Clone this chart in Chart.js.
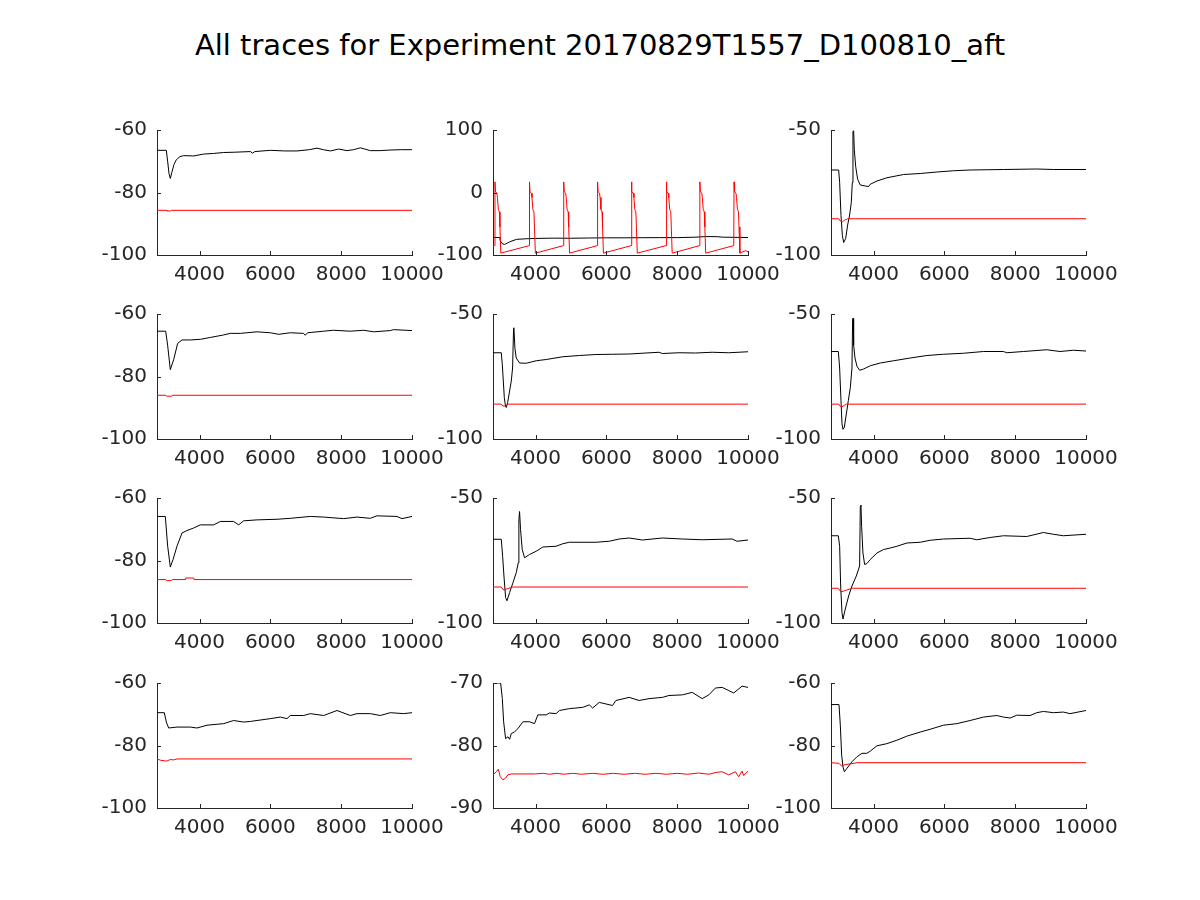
<!DOCTYPE html>
<html>
<head>
<meta charset="utf-8">
<script src="https://cdn.jsdelivr.net/npm/chart.js@4"></script>
<style>
  body { margin: 0; background: #fff; width: 1200px; height: 900px; position: relative; overflow: hidden; font-family: 'DejaVu Sans', sans-serif }
  #title { position: absolute; left: 0; top: 30px; width: 1200px; text-align: center; font-size: 29px; line-height: 30px; color: #000 }
  .panel { position: absolute }
</style>
</head>
<body>
<div id="title">All traces for Experiment 20170829T1557_D100810_aft</div>
<script>
// x axis is shared by every panel
const xRange = [2800, 10000]
const xTicks = [4000, 6000, 8000, 10000]

// y axis limits and ticks, one entry per panel (row by row)
const yRanges = [
  [-100, -60], [-100, 100], [-100, -50],
  [-100, -60], [-100, -50], [-100, -50],
  [-100, -60], [-100, -50], [-100, -50],
  [-100, -60], [-90, -70], [-100, -60]
]
const yTicks = [
  [-100, -80, -60], [-100, 0, 100], [-100, -50],
  [-100, -80, -60], [-100, -50], [-100, -50],
  [-100, -80, -60], [-100, -50], [-100, -50],
  [-100, -80, -60], [-90, -80, -70], [-100, -80, -60]
]

// traces as [time, value]
const black1 = [[2800,-66.5],[3063,-66.5],[3100,-70],[3140,-74],[3176,-75.5],[3220,-73.5],[3280,-71],[3346,-69.5],[3450,-68.5],[3553,-68.2],[3835,-68.3],[4118,-67.7],[4400,-67.5],[4682,-67.2],[5000,-67.1],[5435,-66.9],[5500,-67.4],[5560,-66.9],[6000,-66.5],[6400,-66.7],[6753,-66.7],[7100,-66.3],[7318,-65.8],[7500,-66.3],[7694,-66.7],[7929,-66.1],[8165,-66.6],[8350,-66.3],[8541,-65.7],[8700,-66.2],[8824,-66.6],[9100,-66.6],[9388,-66.4],[9700,-66.3],[10000,-66.3]]
const red1 = [[2800,-85.7],[3063,-85.7],[3080,-85.9],[3180,-85.9],[3200,-85.7],[10000,-85.7]]

const black2 = [[2800,-72],[2990,-72],[3010,-78],[3080,-82.5],[3130,-83],[3200,-81],[3270,-79],[3460,-75],[3740,-74],[4000,-73.5],[4500,-73],[5000,-73.2],[5500,-72.8],[6000,-72.5],[6500,-72.5],[7000,-72.3],[7500,-72.2],[8000,-72.2],[8500,-71.5],[8800,-70.5],[9100,-70.6],[9300,-71.5],[10000,-72]]
const red2 = [
  [2800,-86],[2848,-85],
  [2856,17],[2871,1],[2911,-1],[2926,-8],[2951,-27],[2981,-31],[2996,-55],[3021,-97],
  [3823,-85],[3831,17],[3846,1],[3886,-1],[3901,-8],[3926,-27],[3956,-31],[3971,-55],[3996,-97],
  [4789,-85],[4797,17],[4812,1],[4852,-1],[4867,-8],[4892,-27],[4922,-31],[4937,-55],[4962,-97],
  [5745,-85],[5753,17],[5768,1],[5808,-1],[5823,-8],[5848,-27],[5878,-31],[5893,-55],[5918,-97],
  [6701,-85],[6709,17],[6724,1],[6764,-1],[6779,-8],[6804,-27],[6834,-31],[6849,-55],[6874,-97],
  [7686,-85],[7694,17],[7709,1],[7749,-1],[7764,-8],[7789,-27],[7819,-31],[7834,-55],[7859,-97],
  [8633,-85],[8641,17],[8656,1],[8696,-1],[8711,-8],[8736,-27],[8766,-31],[8781,-55],[8806,-97],
  [9598,-85],[9606,17],[9621,1],[9661,-1],[9676,-8],[9701,-27],[9731,-31],[9746,-55],[9771,-97],
  [9930,-93],[10000,-95]
]

const black3 = [[2800,-66],[3016,-66],[3044,-71],[3082,-84.2],[3120,-92.1],[3157,-95],[3214,-93.4],[3270,-88],[3326,-84],[3373,-79],[3402,-71],[3420,-50.7],[3439,-50.3],[3458,-57.9],[3496,-64.5],[3552,-69.7],[3627,-72],[3768,-72.4],[3862,-72.6],[3909,-71.7],[4097,-70.4],[4379,-69.1],[4849,-67.8],[5319,-67.4],[5789,-66.8],[6259,-66.3],[6729,-66],[7669,-65.8],[8609,-65.6],[9079,-65.8],[10000,-65.8]]
const red3 = [[2800,-85.5],[3016,-85.5],[3060,-86.4],[3120,-86.7],[3180,-86.1],[3270,-85.5],[10000,-85.5]]

const black4 = [[2800,-65.5],[3045,-65.5],[3100,-70],[3176,-77.8],[3271,-74.6],[3383,-69.4],[3506,-68.3],[3741,-68.3],[4023,-68.1],[4306,-67.5],[4682,-66.7],[4870,-66.2],[5153,-66.2],[5623,-65.7],[6000,-66],[6235,-66.5],[6564,-66],[6940,-66.2],[6987,-66.8],[7050,-66],[7505,-65.5],[7787,-65.2],[8258,-65.5],[8634,-65.2],[8917,-65.7],[9387,-65.3],[9481,-65],[10000,-65.3]]
const red4 = [[2800,-86],[3050,-86],[3070,-86.3],[3220,-86.3],[3240,-86],[10000,-86]]

const black5 = [[2800,-65.5],[3034,-65.5],[3063,-70.3],[3091,-76.8],[3119,-83.4],[3156,-87.1],[3175,-87.4],[3213,-85.4],[3269,-80.8],[3316,-76.8],[3353,-71.6],[3381,-55.8],[3391,-55.5],[3419,-63.7],[3456,-67.6],[3550,-69.6],[3738,-69.7],[3878,-69.2],[4019,-68.7],[4300,-68.2],[4769,-67.1],[5238,-66.6],[5706,-66.2],[6175,-66.1],[6644,-66],[7488,-65.3],[7581,-65.8],[8050,-65.5],[8519,-65.6],[8988,-65.3],[9456,-65.5],[10000,-65.1]]
const red5 = [[2800,-86.05],[3034,-86.05],[3080,-86.8],[3180,-86.8],[3210,-86.05],[10000,-86.05]]

const black6 = [[2800,-65],[3007,-65],[3044,-71.6],[3082,-84.7],[3110,-93.9],[3138,-96.1],[3176,-95.3],[3232,-90],[3289,-84.7],[3345,-79.5],[3392,-71.6],[3411,-51.8],[3430,-51.8],[3439,-62.4],[3477,-67.6],[3533,-70.9],[3608,-72.5],[3721,-72],[3909,-70.7],[4191,-69.6],[4567,-68.7],[5037,-67.6],[5507,-66.6],[5977,-66.1],[6541,-65.7],[7105,-65],[7669,-65],[7763,-65.5],[8233,-65],[8891,-64.3],[9267,-65],[9643,-64.5],[10000,-64.8]]
const red6 = [[2800,-86.05],[3020,-86.05],[3060,-86.9],[3110,-87.1],[3180,-86.5],[3240,-86.05],[10000,-86.05]]

const black7 = [[2800,-65.9],[3035,-65.9],[3101,-75.4],[3176,-82.1],[3252,-79.7],[3365,-75.4],[3506,-71.2],[3647,-70.4],[3835,-69.6],[4023,-68.6],[4400,-68.6],[4588,-67.5],[4964,-67.5],[5105,-68.6],[5247,-67.3],[5623,-67],[6188,-66.8],[6564,-66.5],[7129,-65.9],[7505,-66.1],[8070,-66.6],[8446,-66.1],[8822,-66.5],[9011,-65.7],[9575,-65.9],[9716,-66.6],[10000,-65.9]]
const red7 = [[2800,-86.1],[3050,-86.1],[3080,-86.5],[3210,-86.4],[3230,-86.1],[3600,-86.1],[3610,-85.6],[3835,-85.6],[3845,-86.1],[10000,-86.1]]

const black8 = [[2800,-66.5],[3034,-66.5],[3072,-73.3],[3109,-81.2],[3156,-89.8],[3194,-91.1],[3269,-87.8],[3363,-83.9],[3456,-79.9],[3513,-75.9],[3531,-58.7],[3550,-55.4],[3578,-62.7],[3625,-70.6],[3691,-73.9],[3831,-72.6],[4019,-71.3],[4206,-69.6],[4581,-69.3],[4769,-68.3],[4956,-67.7],[5706,-67.7],[6081,-67.3],[6363,-66.4],[6644,-66],[7019,-66.8],[7581,-66],[8144,-66.4],[8706,-66.7],[9550,-66.4],[9691,-67.3],[10000,-66.8]]
const red8 = [[2800,-85.6],[3034,-85.6],[3070,-86.5],[3110,-86.8],[3200,-86.3],[3363,-85.6],[10000,-85.6]]

const black9 = [[2800,-65.1],[3007,-65.1],[3044,-69.3],[3073,-85.2],[3110,-95.8],[3138,-98.4],[3204,-94.4],[3298,-89.2],[3392,-85.2],[3514,-81.2],[3608,-77.2],[3627,-53.4],[3646,-52.8],[3665,-61.4],[3702,-72],[3749,-76.6],[3815,-76.2],[3909,-74.6],[4097,-72],[4285,-70.6],[4473,-70],[4661,-69.3],[4943,-68],[5319,-67.7],[5601,-66.9],[5977,-66.4],[6729,-66.1],[6917,-66.7],[7293,-65.8],[7669,-65.1],[8327,-65.4],[8797,-63.8],[9079,-64.5],[9361,-65.1],[10000,-64.5]]
const red9 = [[2800,-86.1],[3007,-86.1],[3080,-87.6],[3200,-87],[3400,-86.1],[10000,-86.1]]

const black10 = [[2800,-69.5],[3007,-69.5],[3063,-72.5],[3129,-74.4],[3365,-74.1],[3741,-74.1],[3929,-74.4],[4212,-73.5],[4682,-73],[4964,-72],[5247,-72.5],[5435,-72.3],[5623,-72],[6000,-71.4],[6282,-70.9],[6470,-71.4],[6564,-70.4],[6940,-70.4],[7129,-69.8],[7505,-70.4],[7881,-68.8],[8258,-70.4],[8446,-69.8],[8822,-69.8],[9105,-70.4],[9387,-69.5],[9764,-69.8],[10000,-69.5]]
const red10 = [[2800,-84.3],[2894,-84.7],[3063,-85],[3176,-84.5],[3271,-84.6],[3365,-84.3],[10000,-84.3]]

const black11 = [[2800,-70],[3016,-70],[3063,-72.5],[3100,-76.2],[3156,-78.9],[3222,-78.6],[3269,-79],[3316,-78.1],[3409,-77.8],[3503,-77.3],[3644,-76.2],[3831,-76.2],[3972,-76.5],[4066,-75.1],[4300,-75.1],[4394,-74.8],[4581,-74.9],[4675,-74.4],[4956,-74.1],[5331,-73.9],[5519,-73.5],[5613,-74],[5800,-73.1],[6175,-73.6],[6269,-72.8],[6644,-72.3],[6925,-72.8],[7206,-72.5],[7581,-72.3],[7769,-72],[8144,-71.9],[8425,-71.5],[8706,-72.5],[8894,-71.9],[9081,-70.8],[9269,-70.7],[9456,-71.2],[9597,-71.6],[9831,-70.5],[10000,-70.7]]
const red11 = [[2800,-84.7],[2894,-84.2],[2950,-83.8],[3006,-85],[3081,-85.5],[3156,-85.2],[3222,-84.7],[3316,-84.55],[4000,-84.55],[4200,-84.45],[4400,-84.6],[4600,-84.45],[4800,-84.6],[5050,-84.45],[5300,-84.6],[5600,-84.45],[5900,-84.6],[6200,-84.45],[6500,-84.6],[6800,-84.45],[7100,-84.6],[7400,-84.45],[7700,-84.6],[8000,-84.45],[8300,-84.6],[8600,-84.4],[8900,-84.6],[9100,-84.3],[9269,-84.2],[9456,-84.7],[9644,-84.2],[9738,-85],[9831,-84.1],[9878,-84.8],[10000,-84.1]]

const black12 = [[2800,-66.9],[3026,-66.9],[3063,-73.5],[3101,-83.1],[3138,-86.8],[3176,-88.4],[3251,-87.3],[3392,-85.2],[3533,-83.6],[3674,-82.5],[3815,-82.5],[3909,-81.8],[4097,-80.1],[4379,-79.4],[4661,-78.3],[4943,-77],[5319,-75.7],[5601,-74.8],[5977,-73.5],[6353,-73],[6729,-72],[7105,-70.9],[7481,-70.4],[7669,-70.9],[7857,-71.2],[8045,-70.3],[8421,-70.4],[8609,-69.5],[8797,-69.1],[9079,-69.5],[9361,-69.3],[9549,-69.8],[10000,-68.8]]
const red12 = [[2800,-85.5],[3026,-85.7],[3101,-86.6],[3200,-86.1],[3392,-85.8],[3533,-85.5],[10000,-85.5]]

const blackTraces = [black1, black2, black3, black4, black5, black6, black7, black8, black9, black10, black11, black12]
const redTraces = [red1, red2, red3, red4, red5, red6, red7, red8, red9, red10, red11, red12]

// layout (pixels)
const colLefts = [157, 493, 831]
const rowTops = [128, 312, 496, 681]
const plotW = 255, plotH = 127
const padL = 90, padT = 20, padR = 45, padB = 40
const axisColor = '#262626'

// octave style ticks pointing into the plot
const innerTicks = {
  id: 'innerTicks',
  afterDraw(chart) {
    const { ctx, chartArea: a, scales: { x, y } } = chart
    ctx.save()
    ctx.strokeStyle = axisColor
    ctx.lineWidth = 1
    ctx.beginPath()
    x.ticks.forEach(t => {
      const px = Math.round(x.getPixelForValue(t.value)) + 0.5
      ctx.moveTo(px, a.bottom)
      ctx.lineTo(px, a.bottom - 4)
    })
    y.ticks.forEach(t => {
      const py = Math.round(y.getPixelForValue(t.value)) + 0.5
      ctx.moveTo(a.left, py)
      ctx.lineTo(a.left + 4, py)
    })
    ctx.stroke()
    ctx.restore()
  }
}

const toPoints = arr => arr.map(([x, y]) => ({ x, y }))
const tickFont = { family: 'DejaVu Sans', size: 20 }

blackTraces.forEach((black, i) => {
  const row = Math.floor(i / 3), col = i % 3
  const div = document.createElement('div')
  div.className = 'panel'
  div.style.left = colLefts[col] - padL + 'px'
  div.style.top = rowTops[row] - padT + 'px'
  const canvas = document.createElement('canvas')
  canvas.width = plotW + padL + padR
  canvas.height = plotH + padT + padB
  div.appendChild(canvas)
  document.body.appendChild(div)

  new Chart(canvas, {
    type: 'line',
    data: {
      datasets: [
        { data: toPoints(redTraces[i]), borderColor: '#ff0000', borderWidth: 1 },
        { data: toPoints(black), borderColor: '#000000', borderWidth: 1 }
      ]
    },
    options: {
      responsive: false,
      animation: false,
      devicePixelRatio: 1,
      layout: { padding: { left: 0, top: padT, right: padR, bottom: 0 } },
      elements: { point: { radius: 0 }, line: { tension: 0 } },
      plugins: { legend: { display: false }, tooltip: { enabled: false } },
      scales: {
        x: {
          type: 'linear',
          min: xRange[0],
          max: xRange[1],
          grid: { display: false, drawTicks: false },
          border: { display: true, color: axisColor, width: 1 },
          afterBuildTicks: s => { s.ticks = xTicks.map(value => ({ value })) },
          afterFit: s => { s.height = padB },
          ticks: { color: axisColor, font: tickFont, padding: 8, maxRotation: 0, autoSkip: false, callback: v => String(v) }
        },
        y: {
          min: yRanges[i][0],
          max: yRanges[i][1],
          grid: { display: false, drawTicks: false },
          border: { display: true, color: axisColor, width: 1 },
          afterBuildTicks: s => { s.ticks = yTicks[i].map(value => ({ value })) },
          afterFit: s => { s.width = padL },
          ticks: { color: axisColor, font: tickFont, padding: 10, callback: v => String(v) }
        }
      }
    },
    plugins: [innerTicks]
  })
})
</script>
</body>
</html>
